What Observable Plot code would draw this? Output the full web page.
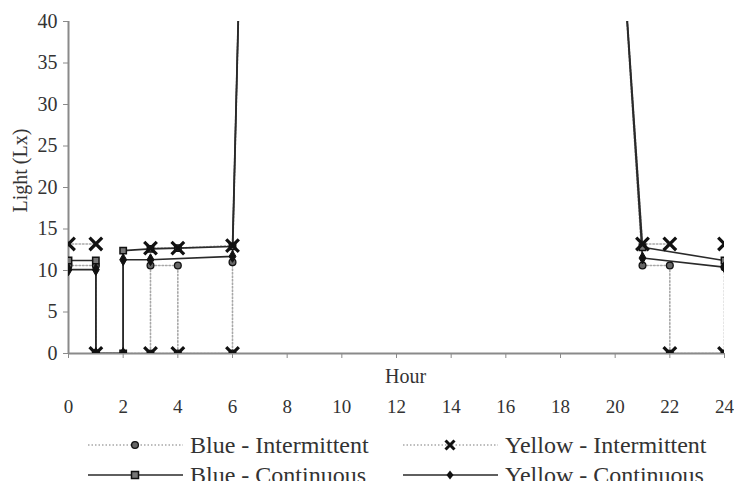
<!DOCTYPE html>
<html>
<head>
<meta charset="utf-8">
<script src="https://cdn.jsdelivr.net/npm/d3@7"></script>
<script src="https://cdn.jsdelivr.net/npm/@observablehq/plot@0.6"></script>
<style>
  html, body { margin: 0; padding: 0; background: #fff; overflow: hidden; }
  #chart svg { display: block; }
  #chart svg, #chart svg g, #chart svg text { font-family: 'Liberation Serif', 'Times New Roman', serif !important; font-variant: normal !important; }
</style>
</head>
<body>
<div id="chart"></div>
<script>
// ---- data ----
const xTicks = [0, 2, 4, 6, 8, 10, 12, 14, 16, 18, 20, 22, 24];
const yTicks = [0, 5, 10, 15, 20, 25, 30, 35, 40];

// Blue - Intermittent (dotted, circle)
const blueIntHours = [0, 1, 1, 3, 3, 4, 4, 6, 6, 7, 20, 21, 22, 22, 24, 24];
const blueIntLux   = [10.6, 10.6, 0, 0, 10.6, 10.6, 0, 0, 11.0, 145, 62, 10.6, 10.6, 0, 0, 10.4];

// Yellow - Intermittent (dotted, cross); null = gap in the line
const yellowIntHours = [0, 1, 1, 1, 3, 4, 6, 6, 3, 4, 6, 7, 20, 21, 22, 22, 22, 24, 24, 24];
const yellowIntLux   = [13.2, 13.2, null, 0, 0, 0, 0, null, 12.7, 12.7, 13.0, 145, 62, 13.2, 13.2, null, 0, 0, null, 13.2];

// Blue - Continuous (solid, square)
const blueConHours = [0, 1, 1, 2, 2, 3, 4, 6, 7, 20, 21, 24];
const blueConLux   = [11.2, 11.2, 0, 0, 12.4, 12.6, 12.7, 12.9, 145, 62, 12.8, 11.2];

// Yellow - Continuous (solid, diamond)
const yellowConHours = [0, 1, 1, 2, 2, 3, 6, 7, 20, 21, 24];
const yellowConLux   = [10.1, 10.1, 0, 0, 11.3, 11.3, 11.7, 145, 62, 11.5, 10.4];

const seriesNames = ["Blue - Intermittent", "Yellow - Intermittent", "Blue - Continuous", "Yellow - Continuous"];

const toRows = (hs, vs) => hs.map((h, i) => ({hour: h, lux: vs[i]}));
const blueInt = toRows(blueIntHours, blueIntLux);
const yellowInt = toRows(yellowIntHours, yellowIntLux);
const blueCon = toRows(blueConHours, blueConLux);
const yellowCon = toRows(yellowConHours, yellowConLux);

const FONT = "'Liberation Serif', 'Times New Roman', serif";
const AXIS = "#8a8a8a";
const SOLID = "#2a2a2a";
const DOT = "#a8a8a8";

const dotted = {x: "hour", y: "lux", stroke: DOT, strokeWidth: 1.6, strokeDasharray: "1.5,2", clip: true};
const solid = {x: "hour", y: "lux", stroke: SOLID, strokeWidth: 1.6, clip: true};

const chart = Plot.plot({
  width: 734,
  height: 422,
  marginTop: 21,
  marginLeft: 68,
  marginRight: 10,
  marginBottom: 69,
  style: {fontFamily: FONT, fontSize: "19px", color: "#333", background: "#fff"},
  x: {domain: [0, 24], ticks: xTicks},
  y: {domain: [0, 40], ticks: yTicks},
  marks: [
    Plot.axisY({ticks: yTicks, tickSize: 5, tickPadding: 6, label: null, stroke: AXIS, fill: "#333", fontSize: 20}),
    Plot.axisX({ticks: xTicks, tickSize: 5, tickPadding: 41, label: null, stroke: AXIS, fill: "#333", fontSize: 19}),
    Plot.ruleX([0], {stroke: AXIS, strokeWidth: 2}),
    Plot.ruleY([0], {stroke: AXIS, strokeWidth: 2}),
    Plot.text(["Hour"], {frameAnchor: "bottom", dy: 29, dx: 9, text: d => d, fontSize: 20, fill: "#333"}),
    Plot.text(["Light (Lx)"], {frameAnchor: "left", rotate: -90, dx: -48, dy: 25, text: d => d, fontSize: 20, fill: "#333"}),
    Plot.line(blueInt, dotted),
    Plot.line(yellowInt, dotted),
    Plot.line(blueCon, solid),
    Plot.line(yellowCon, solid),
    Plot.dot(blueInt, {x: "hour", y: "lux", symbol: "circle", r: 3.4, fill: "#666", stroke: "#111", strokeWidth: 1.3, clip: true}),
    Plot.dot(blueCon, {x: "hour", y: "lux", symbol: "square", r: 3.6, fill: "#777", stroke: "#111", strokeWidth: 1.5, clip: true}),
    Plot.dot(yellowCon, {x: "hour", y: "lux", symbol: "diamond", r: 3.6, fill: "#111", stroke: "#111", strokeWidth: 1, clip: true}),
    Plot.dot(yellowInt, {x: "hour", y: "lux", symbol: "times", r: 5.8, stroke: "#111", strokeWidth: 3.2, clip: true})
  ]
});
document.getElementById("chart").appendChild(chart);

// ---- legend below the chart ----
const legendItems = [
  {name: seriesNames[0], col: 0, row: 0, dash: true, symbol: "circle"},
  {name: seriesNames[1], col: 1, row: 0, dash: true, symbol: "times"},
  {name: seriesNames[2], col: 0, row: 1, dash: false, symbol: "square"},
  {name: seriesNames[3], col: 1, row: 1, dash: false, symbol: "diamond"}
];
const colX = [88, 403];
const rowY = [23, 53];
const lg = d3.create("svg").attr("width", 734).attr("height", 70).style("display", "block");
for (const it of legendItems) {
  const x0 = colX[it.col], cy = rowY[it.row];
  const g = lg.append("g");
  g.append("line").attr("x1", x0).attr("x2", x0 + 95).attr("y1", cy).attr("y2", cy)
    .attr("stroke", it.dash ? DOT : SOLID).attr("stroke-width", 1.6)
    .attr("stroke-dasharray", it.dash ? "1.5,2" : null);
  const cx = x0 + 47;
  if (it.symbol === "circle") {
    g.append("circle").attr("cx", cx).attr("cy", cy).attr("r", 3.4).attr("fill", "#666").attr("stroke", "#111").attr("stroke-width", 1.3);
  } else if (it.symbol === "times") {
    g.append("path").attr("d", `M${cx-4.5},${cy-4.5}L${cx+4.5},${cy+4.5}M${cx-4.5},${cy+4.5}L${cx+4.5},${cy-4.5}`).attr("stroke", "#111").attr("stroke-width", 3);
  } else if (it.symbol === "square") {
    g.append("rect").attr("x", cx - 3.5).attr("y", cy - 3.5).attr("width", 7).attr("height", 7).attr("fill", "#777").attr("stroke", "#111").attr("stroke-width", 1.5);
  } else {
    g.append("path").attr("d", `M${cx},${cy-4.5}L${cx+3.5},${cy}L${cx},${cy+4.5}L${cx-3.5},${cy}Z`).attr("fill", "#111");
  }
  g.append("text").attr("x", x0 + 102).attr("y", cy + 8).attr("font-family", FONT).attr("font-size", 24).attr("fill", "#333").text(it.name);
}
document.getElementById("chart").appendChild(lg.node());
</script>
</body>
</html>
